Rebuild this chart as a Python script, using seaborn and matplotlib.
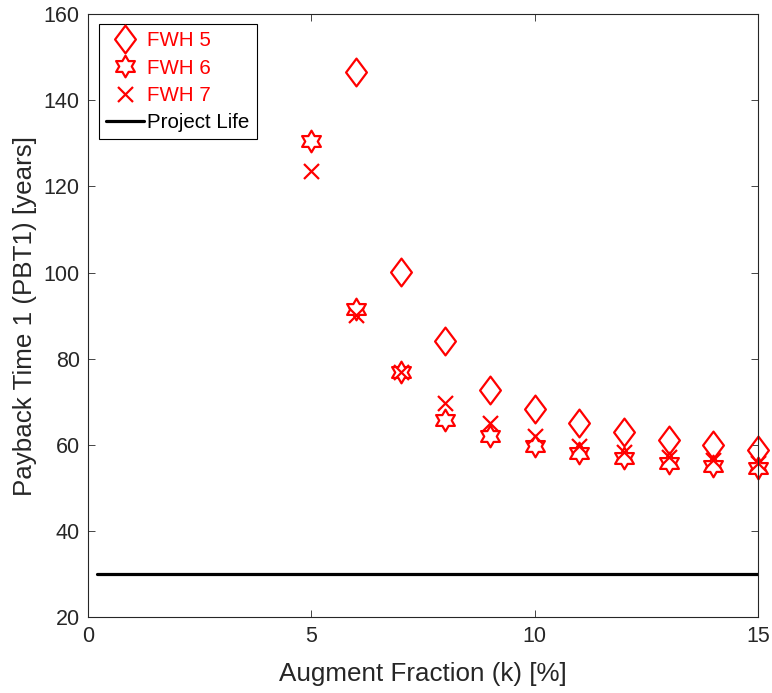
import numpy as np
import pandas as pd
import matplotlib
matplotlib.use("Agg")
import matplotlib.pyplot as plt
from matplotlib.path import Path
import seaborn as sns

# ---- data ----
x_fwh5 = [6, 7, 8, 9, 10, 11, 12, 13, 14, 15]
y_fwh5 = [146.5, 100.1, 84.1, 72.7, 68.3, 65.1, 63.0, 61.1, 60.0, 58.8]
x_fwh6 = [5, 6, 7, 8, 9, 10, 11, 12, 13, 14, 15]
y_fwh6 = [130.6, 91.5, 77.0, 65.8, 62.1, 59.8, 58.1, 56.9, 55.9, 55.0, 54.6]
x_fwh7 = [5, 6, 7, 8, 9, 10, 11, 12, 13, 14, 15]
y_fwh7 = [123.6, 90.2, 76.9, 69.7, 65.0, 62.1, 59.8, 58.3, 57.3, 56.5, 55.9]
x_life = [0.2, 15]
y_life = [30, 30]
labels = ["FWH 5", "FWH 6", "FWH 7", "Project Life"]
xticks = [0, 5, 10, 15]
yticks = [20, 40, 60, 80, 100, 120, 140, 160]

sns.set_theme(style="white")
plt.rcParams['font.family'] = ['Liberation Sans', 'DejaVu Sans']

# custom markers
diamond = Path([(0, 1), (0.75, 0), (0, -1), (-0.75, 0), (0, 1)],
               [Path.MOVETO, Path.LINETO, Path.LINETO, Path.LINETO, Path.CLOSEPOLY])
R, r = 1.0, 1.0 / np.sqrt(3)
verts = []
for i in range(12):
    ang = np.pi / 2 + i * np.pi / 6
    rad = R if i % 2 == 0 else r
    verts.append((rad * np.cos(ang), rad * np.sin(ang)))
verts.append(verts[0])
hexagram = Path(verts, [Path.MOVETO] + [Path.LINETO] * 11 + [Path.CLOSEPOLY])

fig = plt.figure(figsize=(7.72, 6.93), dpi=100)
ax = fig.add_axes([88 / 772, 1 - 617.3 / 693, 670 / 772, 603.3 / 693])

red = (1, 0, 0)
df5 = pd.DataFrame({"x": x_fwh5, "y": y_fwh5})
df6 = pd.DataFrame({"x": x_fwh6, "y": y_fwh6})
df7 = pd.DataFrame({"x": x_fwh7, "y": y_fwh7})
dfl = pd.DataFrame({"x": x_life, "y": y_life})

sns.lineplot(data=df5, x="x", y="y", ax=ax, marker=diamond, markersize=20,
             linestyle="none", color=red, markerfacecolor="none",
             markeredgecolor=red, markeredgewidth=1.6, label=labels[0], clip_on=False)
sns.lineplot(data=df6, x="x", y="y", ax=ax, marker=hexagram, markersize=15.6,
             linestyle="none", color=red, markerfacecolor="none",
             markeredgecolor=red, markeredgewidth=1.6, label=labels[1], clip_on=False)
sns.lineplot(data=df7, x="x", y="y", ax=ax, marker="x", markersize=10.8,
             linestyle="none", color=red, markeredgecolor=red,
             markeredgewidth=1.6, label=labels[2], clip_on=False)
sns.lineplot(data=dfl, x="x", y="y", ax=ax, color="black", linewidth=2.3,
             label=labels[3])

ax.set_xlim(0, 15)
ax.set_ylim(20, 160)
ax.set_xticks(xticks)
ax.set_yticks(yticks)
axc = (0.15, 0.15, 0.15)
ax.tick_params(direction="in", length=4.8, width=0.6, color=axc, labelcolor=axc,
               labelsize=15.5, top=True, right=True, bottom=True, left=True)
ax.tick_params(axis="x", pad=6)
ax.tick_params(axis="y", pad=6)
for s in ax.spines.values():
    s.set_color(axc)
    s.set_linewidth(0.8)
ax.set_xlabel("Augment Fraction (k) [%]", fontsize=18.7, color=axc, labelpad=11)
ax.set_ylabel("Payback Time 1 (PBT1) [years]", fontsize=18.7, color=axc, labelpad=5)

leg = ax.legend(loc="upper left", bbox_to_anchor=(0.0164, 0.983), fontsize=14.8,
                frameon=True, fancybox=False, edgecolor="black", framealpha=1,
                borderpad=0.35, labelspacing=0.4, handlelength=1.85,
                handletextpad=0.15, borderaxespad=0)
leg.get_frame().set_linewidth(0.8)
for t, c in zip(leg.get_texts(), [red, red, red, "black"]):
    t.set_color(c)

fig.savefig("out.png", dpi=100)
